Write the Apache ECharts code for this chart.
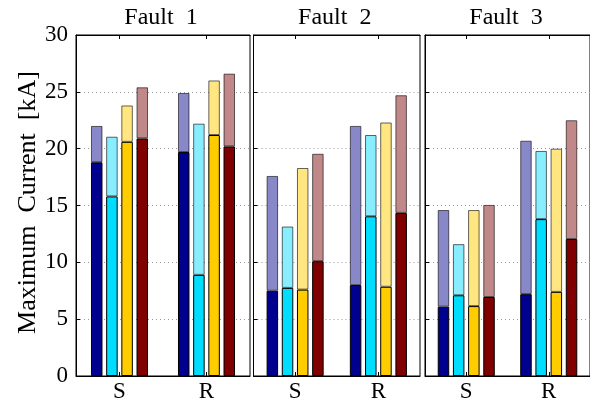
<!DOCTYPE html>
<html>
<head>
<meta charset="utf-8">
<script src="https://cdn.jsdelivr.net/npm/echarts@6/dist/echarts.min.js"></script>
<style>
  html, body { margin: 0; padding: 0; background: #fff; }
  #chart { width: 590px; height: 403px; }
</style>
</head>
<body>
<div id="chart"></div>
<script>
// Categories and panel titles
const categories = ['S', 'R'];
const faults = ['Fault  1', 'Fault  2', 'Fault  3'];
const yTicks = [0, 5, 10, 15, 20, 25, 30];

// Per fault: [S, R] values for each case.
// "base" is the solid lower part, "peak" is the full bar height.
const blueBase = [[18.8, 19.7], [7.5, 8.0], [6.1, 7.2]];
const bluePeak = [[22.0, 24.9], [17.6, 22.0], [14.6, 20.7]];
const cyanBase = [[15.8, 8.9], [7.75, 14.05], [7.1, 13.8]];
const cyanPeak = [[21.05, 22.2], [13.15, 21.2], [11.6, 19.8]];
const goldBase = [[20.6, 21.2], [7.6, 7.85], [6.15, 7.4]];
const goldPeak = [[23.8, 26.0], [18.3, 22.3], [14.6, 20.0]];
const redBase = [[20.9, 20.2], [10.1, 14.35], [6.95, 12.05]];
const redPeak = [[25.4, 26.6], [19.55, 24.7], [15.05, 22.5]];

const groups = [
  { key: 'b', base: blueBase, peak: bluePeak, dark: '#00008f', light: '#8888c8' },
  { key: 'c', base: cyanBase, peak: cyanPeak, dark: '#00ddff', light: '#88eeff' },
  { key: 'g', base: goldBase, peak: goldPeak, dark: '#ffcc00', light: '#ffe680' },
  { key: 'r', base: redBase, peak: redPeak, dark: '#800000', light: '#c08888' }
];

const FONT = '"Liberation Serif", "DejaVu Serif", serif';
const panels = [
  { left: 76, width: 174 },
  { left: 253.5, width: 166.5 },
  { left: 425, width: 166 }
];

const grid = [], xAxis = [], yAxis = [], series = [], title = [];
panels.forEach((p, i) => {
  grid.push({ left: p.left, width: p.width, top: 35, bottom: 25,
    show: true, borderColor: '#000', borderWidth: 1, backgroundColor: '#fff' });
  title.push({ text: faults[i], left: p.left + p.width / 2 - 7, top: 1, textAlign: 'center',
    textStyle: { fontFamily: FONT, fontSize: 24, fontWeight: 'normal', color: '#000' } });
  // bottom category axis
  xAxis.push({ type: 'category', data: categories, gridIndex: i, position: 'bottom',
    axisLine: { lineStyle: { color: '#000', width: 1 } },
    axisTick: { show: true, inside: true, alignWithLabel: true, length: 4, lineStyle: { color: '#000' } },
    axisLabel: { fontFamily: FONT, fontSize: 23, color: '#000', margin: 4 } });
  // top tick marks
  xAxis.push({ type: 'category', data: categories, gridIndex: i, position: 'top',
    axisLine: { lineStyle: { color: '#000', width: 1 } },
    axisTick: { show: true, inside: true, alignWithLabel: true, length: 4, lineStyle: { color: '#000' } },
    axisLabel: { show: false } });
  yAxis.push({ type: 'value', gridIndex: i, min: 0, max: 30, interval: 5,
    axisLine: { show: true, lineStyle: { color: '#000' } },
    axisTick: { show: true, inside: true, length: 4, lineStyle: { color: '#000' } },
    axisLabel: { show: i === 0, fontFamily: FONT, fontSize: 23, color: '#000', margin: 8,
      formatter: v => yTicks.includes(v) ? String(v) : '' },
    splitLine: { show: true, lineStyle: { color: '#999', type: [1, 3], width: 1 } },
    name: i === 0 ? 'Maximum  Current  [kA]' : '',
    nameLocation: 'middle', nameGap: 35, nameRotate: 90,
    nameTextStyle: { fontFamily: FONT, fontSize: 26, color: '#000', padding: [0, 0, 0, 6] } });
  groups.forEach(g => {
    series.push({ type: 'bar', xAxisIndex: i * 2, yAxisIndex: i, stack: g.key + i,
      barWidth: 11.5, barGap: '32%',
      data: g.base[i],
      itemStyle: { color: g.dark, borderColor: '#000', borderWidth: 1 } });
    series.push({ type: 'bar', xAxisIndex: i * 2, yAxisIndex: i, stack: g.key + i,
      barWidth: 11.5, barGap: '32%',
      data: g.peak[i].map((v, k) => +(v - g.base[i][k]).toFixed(2)),
      itemStyle: { color: g.light, borderColor: 'rgba(0,0,0,0.6)', borderWidth: 1 } });
  });
});

const chart = echarts.init(document.getElementById('chart'), null, { renderer: 'canvas' });
chart.setOption({
  animation: false,
  backgroundColor: '#fff',
  title, grid, xAxis, yAxis, series
});
</script>
</body>
</html>
